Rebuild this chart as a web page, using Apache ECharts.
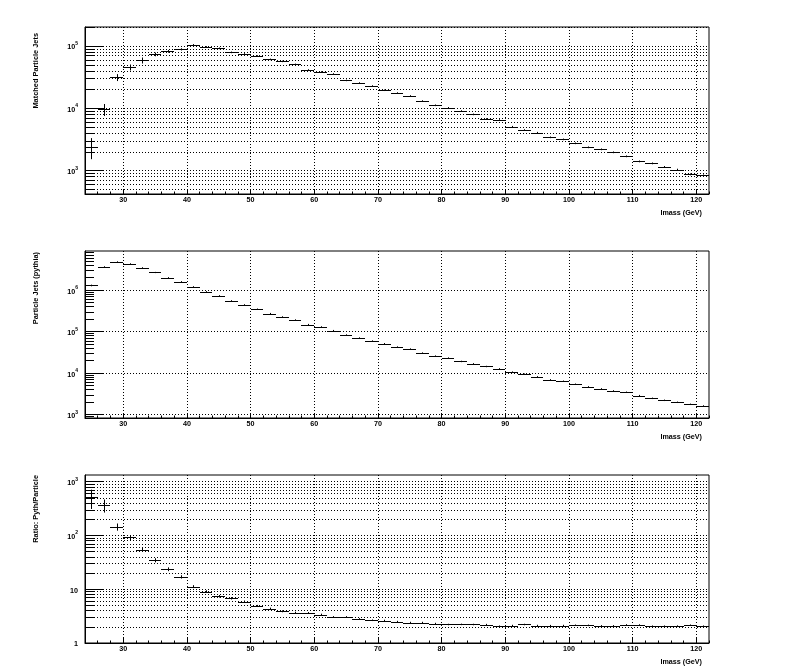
<!DOCTYPE html>
<html><head><meta charset="utf-8">
<script src="https://cdn.jsdelivr.net/npm/echarts@6/dist/echarts.min.js"></script>
<style>html,body{margin:0;padding:0;background:#fff}#c{width:796px;height:672px}</style>
</head><body><div id="c"></div>
<script>
// ---------------- data ----------------
const binCenters = [25,27,29,31,33,35,37,39,41,43,45,47,49,51,53,55,57,59,61,63,65,67,69,71,73,75,77,79,81,83,85,87,89,91,93,95,97,99,101,103,105,107,109,111,113,115,117,119,121];
const binHalfWidth = 1;
const matchedJets = [2430,9640,31400,45500,58900,73500,82100,88400,103800,96400,91800,79100,74500,69100,61100,56700,50800,41200,38300,35600,28100,25500,22800,19500,17600,15800,13100,11200,10200,9060,8010,6750,6500,5080,4490,4070,3430,3180,2750,2370,2200,1970,1700,1410,1310,1150,1040,873,841];
const matchedErr = [900,2100,4000,5000,6500,5000,4000,3500,3500,3000,2800,2400,2200,2000,1800,1600,1400,1200,1100,1000,800,720,640,550,500,450,380,330,300,270,240,200,190,150,135,120,105,95,85,75,70,62,55,46,43,38,35,30,29];
const pythiaJets = [1.30e6,3.67e6,4.84e6,4.34e6,3.47e6,2.67e6,1.99e6,1.59e6,1.20e6,9.11e5,7.29e5,5.52e5,4.42e5,3.47e5,2.72e5,2.26e5,1.91e5,1.48e5,1.30e5,1.06e5,8.30e4,7.03e4,5.94e4,5.13e4,4.26e4,3.81e4,3.05e4,2.58e4,2.31e4,1.92e4,1.68e4,1.45e4,1.27e4,1.06e4,9460,8150,6900,6400,5420,4670,4180,3740,3470,2880,2480,2220,1990,1780,1620];
const pythiaErr = [60000,100000,120000,110000,100000,90000,70000,60000,45000,36000,29000,22000,17000,14000,11000,9000,7500,6000,5200,4200,3300,2800,2400,2000,1700,1500,1200,1000,920,770,670,580,510,420,380,330,280,260,220,190,170,150,140,115,100,90,80,71,65];
const ratioVals = [511,367,145,91.9,54.8,34.7,23.6,17.0,11.2,9.06,7.41,6.80,5.89,4.89,4.36,3.89,3.67,3.62,3.38,3.05,3.05,2.80,2.65,2.62,2.50,2.40,2.40,2.30,2.21,2.22,2.21,2.20,2.05,2.11,2.21,2.11,2.10,2.11,2.14,2.13,2.08,2.08,2.17,2.16,2.05,2.05,2.06,2.14,2.05];
const ratioErr = [200,100,22,10,5,3,1.9,1.2,0.7,0.5,0.4,0.35,0.28,0.22,0.19,0.16,0.15,0.14,0.13,0.11,0.11,0.1,0.09,0.09,0.085,0.08,0.08,0.075,0.07,0.07,0.07,0.07,0.07,0.07,0.07,0.07,0.07,0.07,0.07,0.07,0.07,0.07,0.07,0.07,0.07,0.07,0.07,0.07,0.07];
const xMajorTicks = [30,40,50,60,70,80,90,100,110,120];
const xMinorTicks = [26,28,32,34,36,38,42,44,46,48,52,54,56,58,62,64,66,68,72,74,76,78,82,84,86,88,92,94,96,98,102,104,106,108,112,114,116,118,122];
const yDecadeExponents = [[3,4,5],[3,4,5,6],[0,1,2,3]];
const yTitles = ['Matched Particle Jets','Particle Jets (pythia)','Ratio: Pyth/Particle'];
const xTitle = 'Imass (GeV)';

// ---------------- layout ----------------
const FONT = 'Liberation Sans';
const gridTops = [27, 251, 475];
const gridHeights = [167, 167, 168];
const yLogRanges = [[2.626, 5.305], [2.92, 6.944], [0, 3.125]];
const minorGrid = [true, false, true];
const seriesSets = [[matchedJets, matchedErr], [pythiaJets, pythiaErr], [ratioVals, ratioErr]];

function minorLogs(range) {
  const out = [];
  for (let n = Math.floor(range[0]) - 1; n <= Math.ceil(range[1]); n++) {
    for (let k = 2; k <= 9; k++) {
      const v = Math.log10(k) + n;
      if (v > range[0] && v < range[1]) out.push(v);
    }
  }
  return out;
}

function renderErr(params, api) {
  const x = api.value(0), y = api.value(1), lo = api.value(2), hi = api.value(3);
  const pL = api.coord([x - binHalfWidth, y]);
  const pR = api.coord([x + binHalfWidth, y]);
  const pT = api.coord([x, hi]);
  const pB = api.coord([x, lo]);
  const cy = Math.round(pL[1]) + 0.5;
  const cx = Math.round(pT[0]) + 0.5;
  return {type: 'group', children: [
    {type: 'line', shape: {x1: Math.round(pL[0]), y1: cy, x2: Math.round(pR[0]), y2: cy}, style: {stroke: '#000', lineWidth: 1}},
    {type: 'line', shape: {x1: cx, y1: pT[1], x2: cx, y2: pB[1]}, style: {stroke: '#000', lineWidth: 1}}
  ]};
}

const grids = [], xAxes = [], yAxes = [], series = [], graphics = [];
const dotted = {color: '#000', width: 1, type: [1, 2]};
for (let i = 0; i < 3; i++) {
  grids.push({left: 85, width: 624, top: gridTops[i], height: gridHeights[i], show: true, borderColor: '#000', borderWidth: 1, backgroundColor: '#fff', containLabel: false});
  xAxes.push({gridIndex: i, type: 'value', position: 'bottom', min: 24, max: 122,
    axisLine: {show: true, onZero: false, lineStyle: {color: '#000', width: 1}},
    axisTick: {show: true, inside: true, length: 5, customValues: xMajorTicks, lineStyle: {color: '#000'}},
    axisLabel: {show: true, customValues: xMajorTicks, margin: 3, color: '#000', fontSize: 7.2, fontWeight: 'bold', fontFamily: FONT},
    splitLine: {show: true, lineStyle: dotted}});
  xAxes.push({gridIndex: i, type: 'value', position: 'bottom', min: 24, max: 122,
    axisLine: {show: false},
    axisTick: {show: true, inside: true, length: 2.5, customValues: xMinorTicks, lineStyle: {color: '#000'}},
    axisLabel: {show: false}, splitLine: {show: false}});
  const idx = i;
  yAxes.push({gridIndex: i, type: 'value', position: 'left', min: yLogRanges[i][0], max: yLogRanges[i][1],
    axisLine: {show: true, onZero: false, lineStyle: {color: '#000', width: 1}},
    axisTick: {show: true, inside: true, length: 18, customValues: yDecadeExponents[i], lineStyle: {color: '#000'}},
    axisLabel: {show: true, customValues: yDecadeExponents[i], margin: 7,
      formatter: function (v) {
        const n = Math.round(v);
        if (idx === 2 && n === 0) return '{b|1}';
        if (idx === 2 && n === 1) return '{b|10}';
        return '{b|10}{s|' + n + '}';
      },
      rich: {
        b: {fontSize: 7.2, fontWeight: 'bold', fontFamily: FONT, color: '#000', lineHeight: 10, verticalAlign: 'bottom'},
        s: {fontSize: 5, fontWeight: 'bold', fontFamily: FONT, color: '#000', lineHeight: 5, verticalAlign: 'top'}
      }},
    splitLine: {show: true, lineStyle: dotted}});
  yAxes.push({gridIndex: i, type: 'value', position: 'left', min: yLogRanges[i][0], max: yLogRanges[i][1],
    axisLine: {show: false},
    axisTick: {show: true, inside: true, length: 9, customValues: minorLogs(yLogRanges[i]), lineStyle: {color: '#000'}},
    axisLabel: {show: false},
    splitLine: {show: minorGrid[i], lineStyle: dotted}});
  const vals = seriesSets[i][0], errs = seriesSets[i][1];
  const data = binCenters.map((x, j) => [x, Math.log10(vals[j]), Math.log10(Math.max(vals[j] - errs[j], 1e-9)), Math.log10(vals[j] + errs[j])]);
  series.push({type: 'custom', xAxisIndex: 2 * i, yAxisIndex: 2 * i, renderItem: renderErr, data: data, clip: true, silent: true, animation: false, encode: {x: 0, y: 1}});
  graphics.push({type: 'text', x: 36, y: [33, 252, 475][i], rotation: Math.PI / 2,
    style: {text: yTitles[i], fill: '#000', fontSize: 7.4, fontWeight: 'bold', fontFamily: FONT, textAlign: 'right', textVerticalAlign: 'middle'}});
  graphics.push({type: 'text', x: 702, y: gridTops[i] + gridHeights[i] + 19,
    style: {text: xTitle, fill: '#000', fontSize: 7.2, fontWeight: 'bold', fontFamily: FONT, textAlign: 'right', textVerticalAlign: 'middle'}});
}

const chart = echarts.init(document.getElementById('c'), null, {renderer: 'canvas'});
chart.setOption({
  backgroundColor: '#fff',
  animation: false,
  grid: grids, xAxis: xAxes, yAxis: yAxes, series: series, graphic: graphics
});
</script>
</body></html>
